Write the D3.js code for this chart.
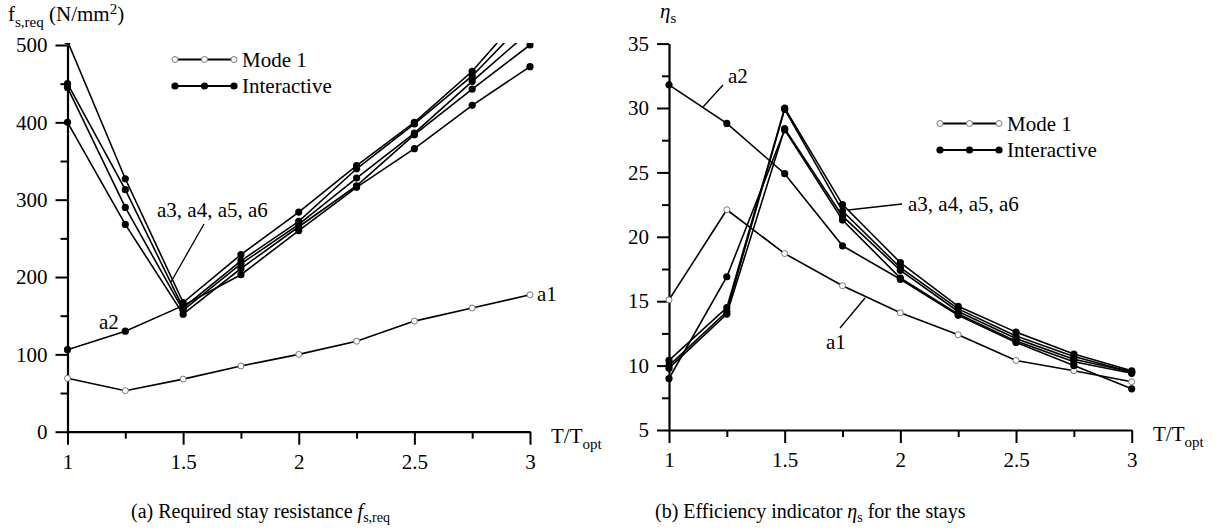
<!DOCTYPE html>
<html>
<head>
<meta charset="utf-8">
<script src="https://cdn.jsdelivr.net/npm/d3@7"></script>
<style>
  html, body { margin: 0; padding: 0; background: #fff; }
  svg { display: block; }
  svg text { font-family: "Liberation Serif", Tinos, "Times New Roman", "DejaVu Serif", serif; fill: #000; }
</style>
</head>
<body>
<svg id="fig" width="1225" height="530"></svg>
<script>
// Period ratio T/T_opt shared by both panels
const tRatio = [1, 1.25, 1.5, 1.75, 2, 2.25, 2.5, 2.75, 3];

// (a) required stay resistance f_s,req (N/mm²)
const fA1 = [69, 53, 68, 85, 100, 117, 143, 160, 177];
const fA2 = [106, 130, 163, 203, 260, 316, 366, 422, 472];
const fA3 = [505, 327, 167, 229, 284, 344, 400, 466, 551];
const fA4 = [450, 313, 160, 221, 272, 340, 398, 460, 537];
const fA5 = [445, 290, 157, 217, 268, 328, 386, 453, 518];
const fA6 = [400, 268, 152, 211, 265, 318, 384, 443, 500];

// (b) efficiency indicator η_s
const eA1 = [15.1, 22.1, 18.7, 16.2, 14.1, 12.4, 10.4, 9.6, 8.75];
const eA2 = [31.8, 28.8, 24.9, 19.3, 16.7, 13.9, 11.8, 10.0, 8.2];
const eA3 = [10.4, 14.5, 30.0, 22.5, 18.0, 14.6, 12.6, 10.9, 9.6];
const eA4 = [10.0, 14.2, 29.9, 22.0, 17.6, 14.4, 12.3, 10.7, 9.5];
const eA5 = [9.8, 14.0, 28.4, 21.6, 17.4, 14.2, 12.1, 10.5, 9.5];
const eA6 = [9.0, 16.9, 28.3, 21.3, 16.8, 14.0, 11.9, 10.3, 9.4];

// Axis ticks
const xMajor = [1, 1.5, 2, 2.5, 3];
const xMinor = [1.25, 1.75, 2.25, 2.75];
const fMajor = [0, 100, 200, 300, 400, 500];
const fMinor = [50, 150, 250, 350, 450];
const eMajor = [5, 10, 15, 20, 25, 30, 35];
const eMinor = [7.5, 12.5, 17.5, 22.5, 27.5, 32.5];

const legendLabels = ["Mode 1", "Interactive"];

const SERIF = '"Liberation Serif", Tinos, "Times New Roman", "DejaVu Serif", serif';
const svg = d3.select("#fig");

function series(values, kind) {
  return { kind, pts: tRatio.map((t, i) => ({ t, v: values[i] })) };
}

function drawPanel(cfg) {
  const { x, y, id } = cfg;
  const g = svg.append("g").attr("font-family", SERIF);

  // clip so curves running past the top of the scale stop at it
  const [x0, x1] = x.range();
  const yTop = y.range()[1];
  const yBot = y.range()[0];
  svg.append("defs").append("clipPath").attr("id", id)
    .append("rect").attr("x", x0 - 10).attr("y", yTop - 2)
    .attr("width", x1 - x0 + 20).attr("height", yBot - yTop + 10);

  // y axis (major + minor ticks)
  g.append("g").attr("transform", `translate(${x0},0)`)
    .call(d3.axisLeft(y).tickValues(cfg.yMajor).tickSize(12).tickSizeOuter(0).tickPadding(8)
      .tickFormat(d3.format("d")));
  g.append("g").attr("transform", `translate(${x0},0)`)
    .call(d3.axisLeft(y).tickValues(cfg.yMinor).tickSize(7).tickSizeOuter(0).tickFormat(""))
    .select(".domain").remove();

  // x axis
  g.append("g").attr("transform", `translate(0,${yBot})`)
    .call(d3.axisBottom(x).tickValues(xMajor).tickSize(13).tickSizeOuter(0).tickPadding(9)
      .tickFormat(d => d3.format("")(d)));
  g.append("g").attr("transform", `translate(0,${yBot})`)
    .call(d3.axisBottom(x).tickValues(xMinor).tickSize(7).tickSizeOuter(0).tickFormat(""))
    .select(".domain").remove();

  g.selectAll("g").attr("font-family", SERIF);
  g.selectAll(".domain").attr("stroke", "#000").attr("stroke-width", 2.2);
  g.selectAll(".tick line").attr("stroke", "#000").attr("stroke-width", 2);
  g.selectAll(".tick text").attr("font-size", 21);

  // curves
  const line = d3.line().x(d => x(d.t)).y(d => y(d.v));
  const plot = g.append("g").attr("clip-path", `url(#${id})`);
  cfg.series.forEach(s => {
    plot.append("path").datum(s.pts).attr("d", line)
      .attr("fill", "none").attr("stroke", "#000").attr("stroke-width", 1.6);
  });
  cfg.series.forEach(s => {
    const m = plot.append("g").selectAll("circle").data(s.pts).join("circle")
      .attr("cx", d => x(d.t)).attr("cy", d => y(d.v));
    if (s.kind === "mode1") {
      m.attr("r", 3).attr("fill", "#fff").attr("stroke", "#777").attr("stroke-width", 1);
    } else {
      m.attr("r", 3.6).attr("fill", "#000");
    }
  });

  // legend
  const lg = g.append("g");
  legendLabels.forEach((lab, i) => {
    const ly = cfg.legend.y + i * cfg.legend.dy;
    const lx0 = cfg.legend.x, lx1 = cfg.legend.x + 59;
    lg.append("line").attr("x1", lx0).attr("x2", lx1).attr("y1", ly).attr("y2", ly)
      .attr("stroke", "#000").attr("stroke-width", 1.8);
    [lx0, (lx0 + lx1) / 2, lx1].forEach(cx => {
      const c = lg.append("circle").attr("cx", cx).attr("cy", ly);
      if (i === 0) c.attr("r", 3).attr("fill", "#fff").attr("stroke", "#777").attr("stroke-width", 1);
      else c.attr("r", 3.6).attr("fill", "#000");
    });
    lg.append("text").attr("x", lx1 + 8).attr("y", ly + 7).attr("font-size", 21).text(lab);
  });

  // x axis title T/T_opt
  const xt = g.append("text").attr("x", cfg.xTitleX).attr("y", yBot + 11).attr("font-size", 21);
  xt.append("tspan").text("T/T");
  xt.append("tspan").attr("dy", 6).attr("font-size", 15).text("opt");

  return g;
}

function annot(g, text, tx, ty, lx1, ly1, lx2, ly2) {
  g.append("text").attr("x", tx).attr("y", ty).attr("font-size", 21).text(text);
  if (lx1 != null) {
    g.append("line").attr("x1", lx1).attr("y1", ly1).attr("x2", lx2).attr("y2", ly2)
      .attr("stroke", "#000").attr("stroke-width", 1.3);
  }
}

// ---------- panel (a) ----------
const xA = d3.scaleLinear().domain([1, 3]).range([67.5, 530]);
const yA = d3.scaleLinear().domain([0, 500]).range([431.7, 45]);
const gA = drawPanel({
  id: "clipA", x: xA, y: yA, yMajor: fMajor, yMinor: fMinor,
  series: [series(fA1, "mode1"), series(fA2, "inter"), series(fA3, "inter"),
           series(fA4, "inter"), series(fA5, "inter"), series(fA6, "inter")],
  legend: { x: 175, y: 59.5, dy: 26.5 },
  xTitleX: 551
});
annot(gA, "a3, a4, a5, a6", 157, 217, 204, 224, 171, 282);
annot(gA, "a2", 99, 329);
annot(gA, "a1", 537, 301);

// y axis title f_s,req (N/mm²)
const tA = svg.append("text").attr("x", 8).attr("y", 21).attr("font-size", 21).attr("font-family", SERIF);
tA.append("tspan").text("f");
tA.append("tspan").attr("dy", 6).attr("font-size", 15).text("s,req");
tA.append("tspan").attr("dy", -6).text(" (N/mm");
tA.append("tspan").attr("dy", -7).attr("font-size", 15).text("2");
tA.append("tspan").attr("dy", 7).text(")");

// ---------- panel (b) ----------
const xB = d3.scaleLinear().domain([1, 3]).range([669, 1131.7]);
const yB = d3.scaleLinear().domain([5, 35]).range([430, 43.6]);
const gB = drawPanel({
  id: "clipB", x: xB, y: yB, yMajor: eMajor, yMinor: eMinor,
  series: [series(eA1, "mode1"), series(eA2, "inter"), series(eA3, "inter"),
           series(eA4, "inter"), series(eA5, "inter"), series(eA6, "inter")],
  legend: { x: 940, y: 123.5, dy: 26.5 },
  xTitleX: 1153
});
annot(gB, "a2", 728, 83, 723, 85, 703, 107);
annot(gB, "a3, a4, a5, a6", 908, 211, 902, 204, 848, 210);
annot(gB, "a1", 826, 349, 865, 298, 840, 328);

// y axis title η_s
const tB = svg.append("text").attr("x", 660).attr("y", 18).attr("font-size", 21).attr("font-family", SERIF);
tB.append("tspan").attr("font-style", "italic").text("η");
tB.append("tspan").attr("dy", 5).attr("font-size", 15).text("s");

// ---------- captions ----------
const cA = svg.append("text").attr("x", 131).attr("y", 518).attr("font-size", 20).attr("font-family", SERIF);
cA.append("tspan").text("(a) Required stay resistance ");
cA.append("tspan").attr("font-style", "italic").text("f");
cA.append("tspan").attr("dy", 4).attr("font-size", 14).text("s,req");

const cB = svg.append("text").attr("x", 655).attr("y", 518).attr("font-size", 20).attr("font-family", SERIF);
cB.append("tspan").text("(b) Efficiency indicator ");
cB.append("tspan").attr("font-style", "italic").text("η");
cB.append("tspan").attr("dy", 4).attr("font-size", 14).text("s");
cB.append("tspan").attr("dy", -4).text(" for the stays");
</script>
</body>
</html>
